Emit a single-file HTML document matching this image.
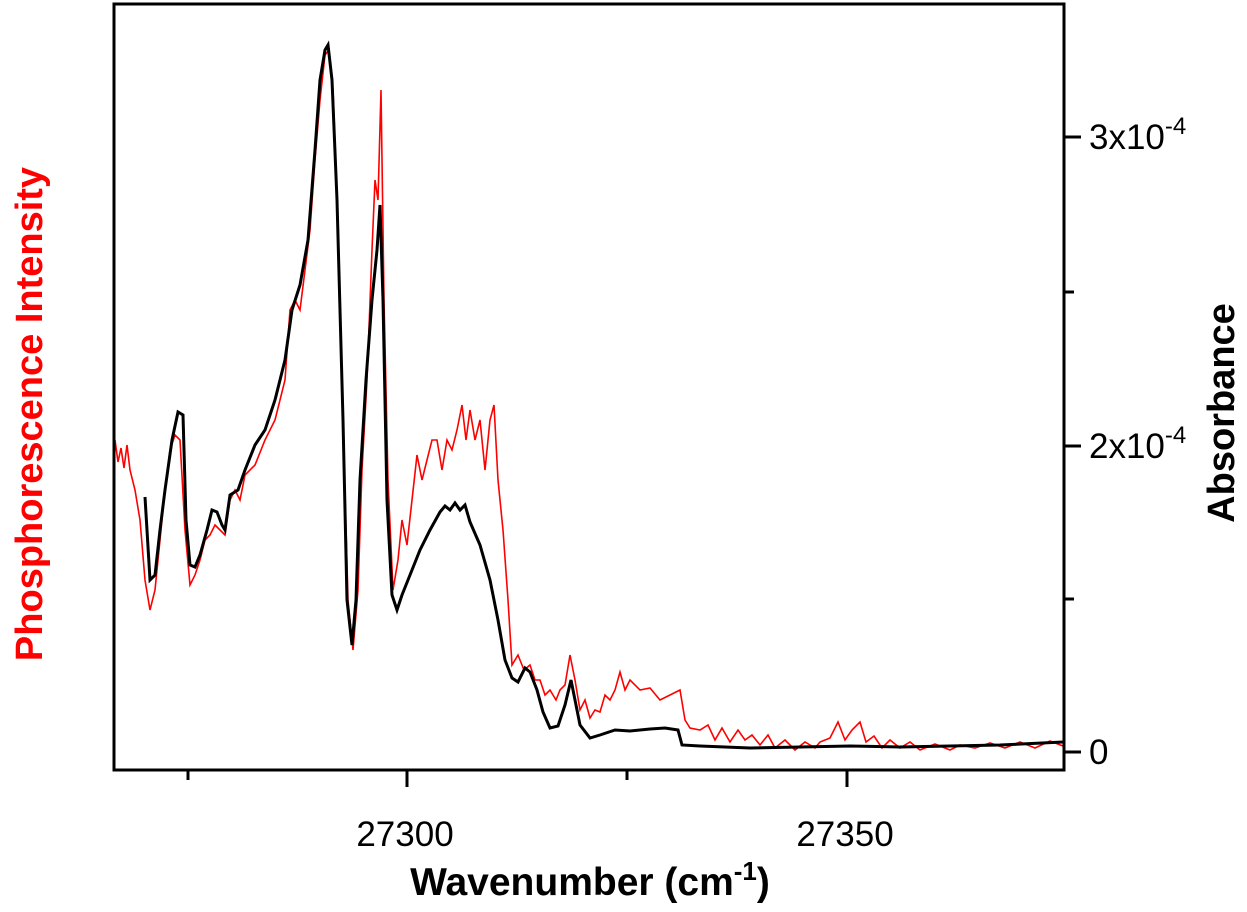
<!DOCTYPE html>
<html><head><style>body{margin:0;background:#fff}</style></head><body>
<svg width="1247" height="907" viewBox="0 0 1247 907" xmlns="http://www.w3.org/2000/svg" font-family="Liberation Sans, Arial, sans-serif">
<rect width="1247" height="907" fill="#fff"/>
<polyline fill="none" stroke="#f00" stroke-width="1.6" points="115,440 118,462 121,448 124,468 127,445 130,470 135,490 140,520 145,580 150,610 155,590 160,540 165,490 170,450 175,435 180,440 185,530 190,585 195,575 200,560 205,540 210,535 215,525 220,530 225,535 230,500 235,490 240,500 245,475 255,465 265,440 275,420 280,400 285,380 290,310 295,300 300,310 305,270 310,230 315,160 320,100 325,55 329,50 333,90 338,220 343,420 348,600 353,650 358,590 362,470 367,380 372,250 375,180 378,200 381,90 384,300 388,480 393,590 398,560 402,520 407,545 412,500 417,455 422,480 427,460 432,440 437,440 442,470 447,440 452,450 457,430 462,405 466,440 470,410 475,440 480,420 485,470 490,420 494,405 498,480 503,530 508,600 512,665 518,655 524,670 530,665 535,680 540,680 545,695 550,690 556,700 560,690 565,685 570,655 575,680 580,710 585,700 590,718 595,710 600,712 605,695 610,700 615,690 620,672 625,690 630,680 640,690 650,688 660,700 670,695 680,690 685,720 690,728 700,730 708,725 715,740 722,728 730,742 738,730 745,740 752,735 760,745 768,735 775,748 785,740 795,750 805,742 815,748 820,742 830,738 838,722 845,740 852,730 860,722 866,742 874,736 882,748 890,740 900,748 910,742 920,750 935,744 950,750 960,745 975,748 990,743 1005,748 1020,742 1035,748 1050,741 1063,746"/>
<polyline fill="none" stroke="#000" stroke-width="3" points="145,497 150,580 155,575 160,530 165,490 172,440 178,412 183,415 186,520 190,565 195,567 200,555 207,530 212,510 217,512 222,525 225,530 230,495 238,490 245,470 255,445 265,430 275,400 285,360 292,310 300,285 308,240 315,150 320,80 325,50 328,45 332,80 337,200 343,420 347,600 352,645 356,600 360,480 366,380 372,300 377,250 380,205 383,300 387,500 392,595 397,610 402,595 410,575 420,550 430,530 440,512 445,506 450,510 455,503 460,510 465,505 470,522 480,545 490,580 498,620 505,660 512,678 518,682 525,668 530,672 537,690 543,712 550,728 558,726 565,705 571,680 575,700 580,725 590,738 600,735 615,730 630,731 650,729 665,728 678,730 682,745 700,746 750,748 800,747 850,746 900,747 950,746 1000,745 1063,742"/>
<rect x="114" y="4" width="950" height="766" fill="none" stroke="#000" stroke-width="3"/>
<g stroke="#000" stroke-width="3">
<line x1="407" y1="770" x2="407" y2="787"/><line x1="847" y1="770" x2="847" y2="787"/>
<line x1="188" y1="770" x2="188" y2="780"/><line x1="627" y1="770" x2="627" y2="780"/>
<line x1="1064" y1="752" x2="1081" y2="752"/><line x1="1064" y1="446" x2="1081" y2="446"/><line x1="1064" y1="137" x2="1081" y2="137"/>
<line x1="1064" y1="599" x2="1074" y2="599"/><line x1="1064" y1="292" x2="1074" y2="292"/>
</g>
<g font-size="35" fill="#000">
<text x="405" y="846" text-anchor="middle">27300</text>
<text x="845" y="846" text-anchor="middle">27350</text>
<text x="1089" y="764">0</text>
<text x="1089" y="458">2x10<tspan dy="-15" font-size="24">-4</tspan></text>
<text x="1089" y="149">3x10<tspan dy="-15" font-size="24">-4</tspan></text>
</g>
<text x="590" y="895" text-anchor="middle" font-size="39" font-weight="bold">Wavenumber (cm<tspan dy="-15" font-size="26">-1</tspan><tspan dy="15">)</tspan></text>
<text transform="translate(42,414) rotate(-90)" text-anchor="middle" font-size="38" font-weight="bold" fill="#f00">Phosphorescence Intensity</text>
<text transform="translate(1234,413) rotate(-90)" text-anchor="middle" font-size="38" font-weight="bold">Absorbance</text>
</svg>
</body></html>
